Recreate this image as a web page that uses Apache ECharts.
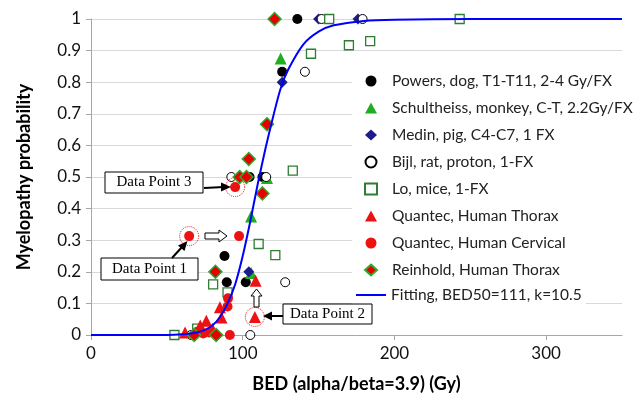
<!DOCTYPE html>
<html>
<head>
<meta charset="UTF-8">
<script src="https://cdn.jsdelivr.net/npm/echarts@6/dist/echarts.min.js"></script>
<style>
  html, body { margin: 0; padding: 0; background: #fff; }
  #chart { width: 641px; height: 402px; }
</style>
</head>
<body>
<div id="chart"></div>
<script>
// values
var xTicks = [0, 100, 200, 300];

var powersX = [136, 126, 104.5, 113, 88, 89.5, 102];
var powersY = [1, 0.833, 0.5, 0.5, 0.25, 0.167, 0.167];

var schultX = [125, 116, 105.5, 105.5];
var schultY = [0.875, 0.497, 0.375, 0.196];

var medinX = [150, 176, 126, 104, 83.5];
var medinY = [1, 1, 0.8, 0.2, 0];

var bijlX = [152, 179, 141, 92.5, 115.5, 128, 105, 66];
var bijlY = [1, 1, 0.833, 0.5, 0.5, 0.167, 0, 0];

var loX = [157, 243, 145, 170, 184, 133, 110.5, 121.5, 80.5, 90, 55, 70];
var loY = [1, 1, 0.89, 0.917, 0.93, 0.52, 0.288, 0.253, 0.16, 0.135, 0, 0.02];

var qtX = [62, 72, 76, 80, 85, 86, 108.5, 108];
var qtY = [0.008, 0.03, 0.045, 0.02, 0.088, 0.055, 0.172, 0.057];

var qcX = [64.7, 97.6, 95, 90.3, 90, 70, 74, 78, 91.5];
var qcY = [0.313, 0.313, 0.468, 0.116, 0.09, 0.01, 0.005, 0.008, 0];

var reinX = [121, 116, 104, 98, 102.5, 113, 82, 68, 82.5];
var reinY = [1, 0.667, 0.557, 0.5, 0.5, 0.448, 0.2, 0, 0];

var fitX = [0, 50, 60, 70, 75, 80, 85, 90, 95, 100, 105, 110, 115, 120, 125, 130, 140, 150, 160, 180, 200, 250, 350];
var fitY = [0, 0, 0.002, 0.008, 0.016, 0.03, 0.057, 0.1, 0.16, 0.25, 0.36, 0.48, 0.59, 0.69, 0.78, 0.84, 0.92, 0.96, 0.98, 0.994, 0.998, 1, 1];

var names = ['Powers, dog, T1-T11, 2-4 Gy/FX', 'Schultheiss, monkey, C-T, 2.2Gy/FX',
  'Medin, pig, C4-C7, 1 FX', 'Bijl, rat, proton, 1-FX', 'Lo, mice, 1-FX',
  'Quantec, Human Thorax', 'Quantec, Human Cervical', 'Reinhold, Human Thorax',
  'Fitting, BED50=111, k=10.5'];

// the three marked points: [series, index]
var marked = [['qc', 0], ['qt', 7], ['qc', 2]];

function pairs(xs, ys) {
  return xs.map(function (x, i) { return [x, ys[i]]; });
}
var src = { qc: [qcX, qcY], qt: [qtX, qtY] };
var markedData = marked.map(function (m) {
  return [src[m[0]][0][m[1]], src[m[0]][1][m[1]]];
});

var chart = echarts.init(document.getElementById('chart'));
var font = 'Lato';
var axisGray = '#a6a6a6';
var legendText = { fontFamily: font, fontSize: 15.5, color: '#222' };

function scatter(name, xs, ys, symbol, size, style) {
  style.opacity = 1;
  return {
    name: name, type: 'scatter', data: pairs(xs, ys),
    symbol: symbol, symbolSize: size, itemStyle: style
  };
}

var option = {
  animation: false,
  backgroundColor: '#fff',
  grid: { left: 91, right: 19, top: 19, bottom: 67 },
  xAxis: {
    type: 'value', min: 0, max: 350, interval: 100,
    name: 'BED (alpha/beta=3.9) (Gy)', nameLocation: 'middle', nameGap: 40,
    nameTextStyle: { fontFamily: font, fontSize: 18, fontWeight: 'bold', color: '#000' },
    axisLine: { lineStyle: { color: axisGray } },
    axisTick: { length: 5, lineStyle: { color: axisGray }, customValues: xTicks },
    axisLabel: { fontFamily: font, fontSize: 17, color: '#111', margin: 10, customValues: xTicks },
    splitLine: { show: false }
  },
  yAxis: {
    type: 'value', min: 0, max: 1, interval: 0.1,
    name: 'Myelopathy probability', nameLocation: 'middle', nameGap: 58,
    nameTextStyle: { fontFamily: font, fontSize: 18, fontWeight: 'bold', color: '#000' },
    axisLine: { show: true, lineStyle: { color: axisGray } },
    axisTick: { show: true, length: 5, lineStyle: { color: axisGray } },
    axisLabel: { fontFamily: font, fontSize: 17, color: '#111', margin: 10 },
    splitLine: { lineStyle: { color: '#d9d9d9' } }
  },
  legend: [
    {
      orient: 'vertical', left: 352, top: 67,
      padding: [6, 4, 6, 12], backgroundColor: '#fff',
      itemWidth: 12, itemHeight: 11, itemGap: 11,
      textStyle: Object.assign({ padding: [0, 0, 0, 10] }, legendText),
      data: names.slice(0, 8)
    },
    {
      orient: 'vertical', left: 352, top: 283,
      padding: [4, 4, 8, 4], backgroundColor: '#fff',
      itemWidth: 30, itemHeight: 2,
      textStyle: legendText,
      data: [{ name: names[8], icon: 'rect' }]
    }
  ],
  series: [
    scatter(names[0], powersX, powersY, 'circle', 10, { color: '#000' }),
    scatter(names[1], schultX, schultY, 'triangle', 12, { color: '#1fae1f' }),
    scatter(names[2], medinX, medinY, 'diamond', 11, { color: '#1c1c8c' }),
    scatter(names[3], bijlX, bijlY, 'circle', 9, { color: '#fff', borderColor: '#000', borderWidth: 1 }),
    scatter(names[4], loX, loY, 'rect', 9, { color: '#fff', borderColor: '#2e7d32', borderWidth: 1.3 }),
    scatter(names[5], qtX, qtY, 'triangle', 12, { color: '#ee1111' }),
    scatter(names[6], qcX, qcY, 'circle', 10, { color: '#ee1111' }),
    scatter(names[7], reinX, reinY, 'diamond', 13, { color: '#e60000', borderColor: '#2eaa2e', borderWidth: 1.5 }),
    {
      name: names[8], type: 'line', data: pairs(fitX, fitY),
      symbol: 'none', smooth: 0.3, lineStyle: { color: '#0000ff', width: 2 },
      itemStyle: { color: '#0000ff' }, z: 3
    },
    {
      name: 'marked', type: 'scatter', data: markedData, symbol: 'circle', symbolSize: 19,
      itemStyle: { color: 'transparent', borderColor: '#ee1111', borderWidth: 1, borderType: 'dotted', opacity: 1 },
      silent: true
    }
  ],
  graphic: [
    // Data Point 3
    { type: 'rect', shape: { x: 105, y: 172, width: 98, height: 21 }, style: { fill: '#fff', stroke: '#000', lineWidth: 1 }, z: 10 },
    { type: 'text', x: 154, y: 182.5, style: { text: 'Data Point 3', font: '15px "Liberation Serif"', fill: '#000', align: 'center', verticalAlign: 'middle' }, z: 11 },
    { type: 'line', shape: { x1: 204, y1: 188, x2: 224, y2: 187 }, style: { stroke: '#000', lineWidth: 2 }, z: 10 },
    { type: 'polygon', shape: { points: [[231, 187], [221, 182.5], [221, 191.5]] }, style: { fill: '#000' }, z: 10 },
    // Data Point 1
    { type: 'rect', shape: { x: 101, y: 258, width: 97, height: 22 }, style: { fill: '#fff', stroke: '#000', lineWidth: 1 }, z: 10 },
    { type: 'text', x: 149.5, y: 269, style: { text: 'Data Point 1', font: '15px "Liberation Serif"', fill: '#000', align: 'center', verticalAlign: 'middle' }, z: 11 },
    { type: 'line', shape: { x1: 172, y1: 258, x2: 182, y2: 247 }, style: { stroke: '#000', lineWidth: 2 }, z: 10 },
    { type: 'polygon', shape: { points: [[187.5, 241], [178, 245.5], [184.5, 251]] }, style: { fill: '#000' }, z: 10 },
    // Data Point 2
    { type: 'rect', shape: { x: 283, y: 304, width: 89, height: 20 }, style: { fill: '#fff', stroke: '#000', lineWidth: 1 }, z: 10 },
    { type: 'text', x: 327.5, y: 314, style: { text: 'Data Point 2', font: '15px "Liberation Serif"', fill: '#000', align: 'center', verticalAlign: 'middle' }, z: 11 },
    { type: 'line', shape: { x1: 283, y1: 316, x2: 270, y2: 316 }, style: { stroke: '#000', lineWidth: 2 }, z: 10 },
    { type: 'polygon', shape: { points: [[263, 316], [272, 311.5], [272, 320.5]] }, style: { fill: '#000' }, z: 10 },
    // hollow arrows
    { type: 'polygon', shape: { points: [[205, 233], [219, 233], [219, 230], [227, 236], [219, 242], [219, 239], [205, 239]] }, style: { fill: '#fff', stroke: '#000', lineWidth: 1 }, z: 10 },
    { type: 'polygon', shape: { points: [[256.5, 289], [262, 296], [259, 296], [259, 307], [254, 307], [254, 296], [251, 296]] }, style: { fill: '#fff', stroke: '#000', lineWidth: 1 }, z: 10 }
  ]
};
chart.setOption(option);
</script>
</body>
</html>
